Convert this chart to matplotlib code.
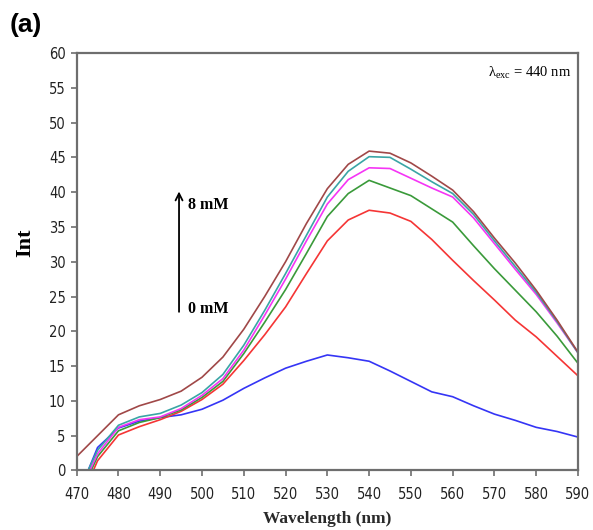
import matplotlib
matplotlib.use("Agg")
import matplotlib.pyplot as plt
import numpy as np

wavelength = [470, 475, 480, 485, 490, 495, 500, 505, 510, 515, 520, 525, 530,
              535, 540, 545, 550, 555, 560, 565, 570, 575, 580, 585, 590]

int_blue = [-4.0, 3.3, 6.1, 7.1, 7.6, 8.0, 8.8, 10.1, 11.8, 13.3, 14.7, 15.7, 16.6,
            16.2, 15.7, 14.3, 12.8, 11.3, 10.6, 9.3, 8.1, 7.2, 6.2, 5.6, 4.8]
int_red = [-5.5, 1.4, 5.1, 6.3, 7.3, 8.5, 10.2, 12.4, 15.8, 19.5, 23.5, 28.3, 33.0,
           36.0, 37.4, 37.0, 35.8, 33.2, 30.2, 27.3, 24.5, 21.6, 19.2, 16.4, 13.6]
int_green = [-4.5, 2.0, 5.7, 6.9, 7.6, 8.7, 10.5, 12.8, 16.8, 21.3, 26.0, 31.2, 36.5,
             39.8, 41.7, 40.6, 39.5, 37.6, 35.7, 32.3, 29.0, 25.9, 22.8, 19.3, 15.4]
int_magenta = [-4.0, 2.4, 6.2, 7.3, 7.7, 8.9, 10.8, 13.2, 17.3, 22.3, 27.5, 33.0, 38.3,
               41.8, 43.5, 43.4, 42.0, 40.6, 39.3, 36.3, 32.6, 28.9, 25.3, 21.2, 16.9]
int_teal = [-3.5, 2.9, 6.5, 7.7, 8.2, 9.4, 11.2, 13.8, 18.0, 23.0, 28.3, 33.8, 39.3,
            43.0, 45.1, 45.0, 43.3, 41.5, 39.8, 36.8, 33.0, 29.3, 25.6, 21.4, 16.9]
int_brown = [2.0, 5.0, 8.0, 9.3, 10.2, 11.4, 13.4, 16.3, 20.3, 25.0, 30.0, 35.5, 40.5,
             44.0, 45.9, 45.6, 44.2, 42.3, 40.3, 37.2, 33.4, 29.8, 25.9, 21.6, 17.0]

series = [int_blue, int_red, int_green, int_magenta, int_teal, int_brown]
colors = ["#3535F5", "#F53535", "#3A9A3A", "#F535F5", "#3AA5A5", "#A04848"]

x_ticks = list(range(470, 591, 10))
y_ticks = list(range(0, 61, 5))

plt.rcParams['mathtext.fontset'] = 'custom'
plt.rcParams['mathtext.rm'] = 'Liberation Serif'
plt.rcParams['mathtext.it'] = 'Liberation Serif:italic'

fig = plt.figure(figsize=(5.93, 5.30), dpi=100)
ax = fig.add_axes([0.1293, 0.1123, 0.8454, 0.7877])

for vals, c in zip(series, colors):
    ax.plot(wavelength, vals, color=c, lw=1.2)

ax.set_xlim(470, 590)
ax.set_ylim(0, 60)
ax.set_xticks(x_ticks)
ax.set_yticks(y_ticks)

tick_font = dict(family=['DejaVu Sans'], stretch='condensed', size=10.5)
ax.set_xticklabels([str(v) for v in x_ticks], fontdict=tick_font)
ax.set_yticklabels([str(v) for v in y_ticks], fontdict=tick_font)

for s in ax.spines.values():
    s.set_color('#6e6e6e')
    s.set_linewidth(1.6)
ax.tick_params(axis='both', direction='out', length=4, width=1.2, color='#6e6e6e',
               labelcolor='#222222')
ax.tick_params(axis='x', pad=8)
ax.tick_params(axis='y', pad=4)

ax.set_ylabel('Int', family='Liberation Serif', weight='bold', fontsize=16,
              va='center')
ax.yaxis.set_label_coords(-0.103, 0.545)
ax.set_xlabel('Wavelength (nm)', family='Liberation Serif', weight='bold',
              fontsize=12.5, va='center', color='#2a2a2a')
ax.xaxis.set_label_coords(0.5, -0.116)

ax.annotate('', xy=(494.5, 40.5), xytext=(494.5, 22.4),
            arrowprops=dict(arrowstyle='->,head_length=0.5,head_width=0.25',
                            color='black', lw=1.3))
ax.text(496.6, 38.1, '8 mM', family='Liberation Serif', weight='bold',
        fontsize=11.5, va='center', ha='left')
ax.text(496.6, 23.2, '0 mM', family='Liberation Serif', weight='bold',
        fontsize=11.5, va='center', ha='left')

ax.text(588.3, 57.1, r'$\mathregular{\lambda_{exc}}$ = 440 nm',
        family='Liberation Serif', fontsize=10.5, va='center', ha='right')

fig.text(0.017, 1 - 25 / 530, '(a)', family=['Liberation Sans', 'DejaVu Sans'],
         weight='bold', fontsize=19, va='center', ha='left')

fig.savefig('out.png', dpi=100)
